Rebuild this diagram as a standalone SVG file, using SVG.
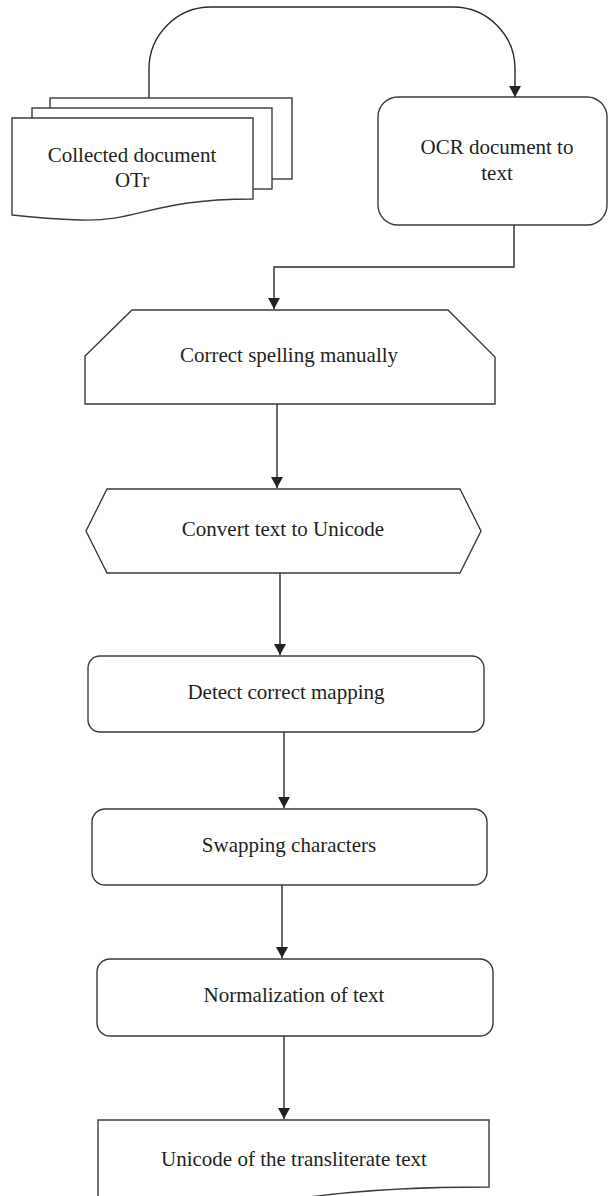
<svg xmlns="http://www.w3.org/2000/svg" width="608" height="1196" viewBox="0 0 608 1196">
<style>
.s{fill:#fff;stroke:#3a3a3a;stroke-width:1.4}
.c{fill:none;stroke:#2a2a2a;stroke-width:1.4}
.t{font-family:"Liberation Serif","Times New Roman",serif;font-size:21px;fill:#231f20;text-anchor:middle}
</style>
<defs>
<marker id="ah" markerUnits="userSpaceOnUse" markerWidth="12" markerHeight="12" refX="11" refY="6" orient="auto">
<path d="M0,0 L11,6 L0,12 Z" fill="#222"/>
</marker>
</defs>
<rect width="608" height="1196" fill="#fff"/>
<g id="connectors">
<path class="c" d="M149,98 V69 A62,62 0 0 1 211,7 H453 A62,62 0 0 1 515,69 V97" marker-end="url(#ah)"/>
<path class="c" d="M514,225 V267 H274 V309" marker-end="url(#ah)"/>
<path class="c" d="M277,404 V488" marker-end="url(#ah)"/>
<path class="c" d="M280,573 V655" marker-end="url(#ah)"/>
<path class="c" d="M284,732 V808" marker-end="url(#ah)"/>
<path class="c" d="M282,885 V958" marker-end="url(#ah)"/>
<path class="c" d="M284,1036 V1119" marker-end="url(#ah)"/>
</g>
<g id="collected">
<rect class="s" x="50" y="98" width="242" height="81"/>
<rect class="s" x="32" y="108" width="240" height="81"/>
<path class="s" d="M12,118 H253 V199 C150,199 140,222 80,220 C50,219 30,217 12,215 Z"/>
<text class="t" x="132" y="162">Collected document</text>
<text class="t" x="132" y="187">OTr</text>
</g>
<g id="ocr">
<rect class="s" x="378" y="97" width="229" height="128" rx="20"/>
<text class="t" x="497" y="154">OCR document to</text>
<text class="t" x="497" y="180">text</text>
</g>
<g id="correct">
<path class="s" d="M132,310 H448 L495,357 V404 H85 V356 Z"/>
<text class="t" x="289" y="362">Correct spelling manually</text>
</g>
<g id="convert">
<path class="s" d="M107,489 H460 L481,531 L460,573 H107 L86,531 Z"/>
<text class="t" x="283" y="536">Convert text to Unicode</text>
</g>
<g id="detect">
<rect class="s" x="88" y="656" width="396" height="76" rx="12"/>
<text class="t" x="286" y="699">Detect correct mapping</text>
</g>
<g id="swap">
<rect class="s" x="92" y="809" width="395" height="76" rx="13"/>
<text class="t" x="289" y="852">Swapping characters</text>
</g>
<g id="normalize">
<rect class="s" x="97" y="959" width="396" height="77" rx="13"/>
<text class="t" x="294" y="1002">Normalization of text</text>
</g>
<g id="output">
<path class="s" d="M98,1200 V1120 H489 V1187 C420,1187 350,1190 290,1200"/>
<text class="t" x="294" y="1166">Unicode of the transliterate text</text>
</g>
</svg>
